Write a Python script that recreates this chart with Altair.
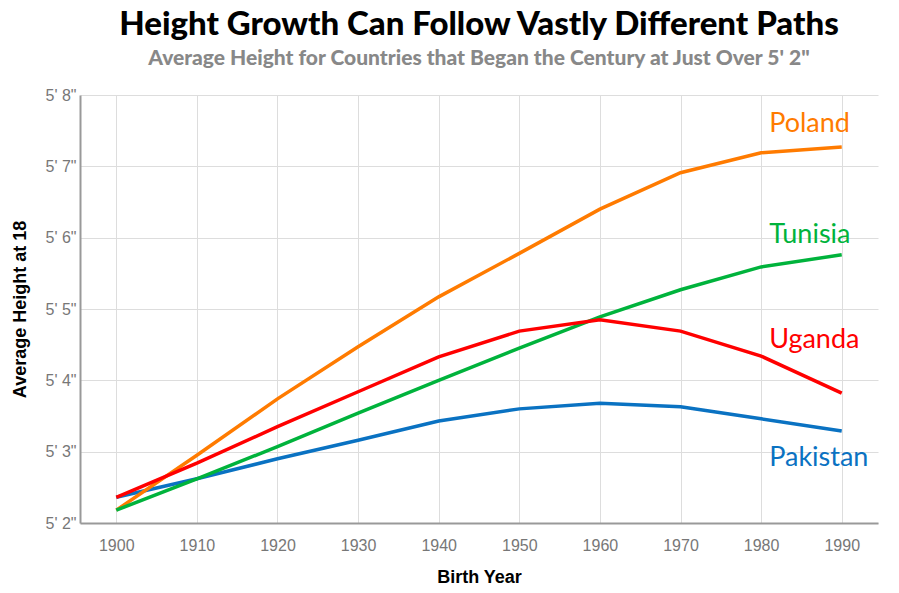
import altair as alt
import pandas as pd

years = [1900, 1910, 1920, 1930, 1940, 1950, 1960, 1970, 1980, 1990]
poland = [62.18, 62.95, 63.74, 64.47, 65.17, 65.78, 66.40, 66.91, 67.19, 67.27]
tunisia = [62.18, 62.62, 63.07, 63.54, 64.00, 64.45, 64.89, 65.27, 65.59, 65.76]
uganda = [62.36, 62.84, 63.35, 63.84, 64.33, 64.69, 64.85, 64.69, 64.34, 63.82]
pakistan = [62.36, 62.62, 62.90, 63.16, 63.43, 63.60, 63.68, 63.63, 63.46, 63.29]

countries = ["Pakistan", "Poland", "Tunisia", "Uganda"]
colors = ["#0a72c2", "#ff7b00", "#00b33c", "#ff0000"]

label_names = ["Poland", "Tunisia", "Uganda", "Pakistan"]
label_year = [1981, 1981, 1981, 1981]
label_value = [67.59, 66.04, 64.57, 62.91]

y_ticks = [62, 63, 64, 65, 66, 67, 68]
x_ticks = years

series = {"Poland": poland, "Tunisia": tunisia, "Uganda": uganda, "Pakistan": pakistan}
rows = []
for name in countries:
    for yr, v in zip(years, series[name]):
        rows.append({"country": name, "year": yr, "height": v})
df = pd.DataFrame(rows)
labels_df = pd.DataFrame({"country": label_names, "year": label_year, "height": label_value})

color_scale = alt.Scale(domain=countries, range=colors)
x_enc = alt.X("year:Q", scale=alt.Scale(domain=[1895.5, 1994.5], nice=False, zero=False),
              axis=alt.Axis(values=x_ticks, format="d", title="Birth Year",
                            labelPadding=14, titlePadding=15, tickSize=0))
y_enc = alt.Y("height:Q", scale=alt.Scale(domain=[62, 68], nice=False, zero=False),
              axis=alt.Axis(values=y_ticks, title="Average Height at 18",
                            labelExpr="floor(datum.value/12) + \"' \" + (datum.value % 12) + '\"'",
                            labelPadding=4, titlePadding=16, tickSize=0))

lines = alt.Chart(df).mark_line(strokeWidth=3.5).encode(
    x=x_enc, y=y_enc,
    color=alt.Color("country:N", scale=color_scale, legend=None),
    detail="country:N",
)

texts = alt.Chart(labels_df).mark_text(align="left", baseline="middle", fontSize=27,
                                       font="Lato").encode(
    x=alt.X("year:Q"), y=alt.Y("height:Q"),
    text="country:N",
    color=alt.Color("country:N", scale=color_scale, legend=None),
)

chart = alt.layer(lines, texts).properties(
    width=798, height=428,
    autosize=alt.AutoSizeParams(type="none"),
    padding={"left": 72, "top": 87, "right": 13, "bottom": 62},
    title=alt.TitleParams(
        text="Height Growth Can Follow Vastly Different Paths",
        subtitle="Average Height for Countries that Began the Century at Just Over 5' 2\"",
        anchor="middle", font="Lato", fontSize=33, fontWeight=900, color="#000",
        subtitleFont="Lato", subtitleFontSize=21, subtitleFontWeight=900,
        subtitleColor="#888", subtitlePadding=6, offset=18,
    ),
).configure_view(stroke=None).configure_axis(
    domainColor="#999", domainWidth=2, gridColor="#ddd", gridWidth=1,
    labelColor="#777", labelFont="Liberation Sans", labelFontSize=16,
    titleColor="#000", titleFont="Liberation Sans", titleFontSize=18, titleFontWeight="bold",
)

chart.save("out.html", embed_options={"renderer": "svg", "actions": False})
